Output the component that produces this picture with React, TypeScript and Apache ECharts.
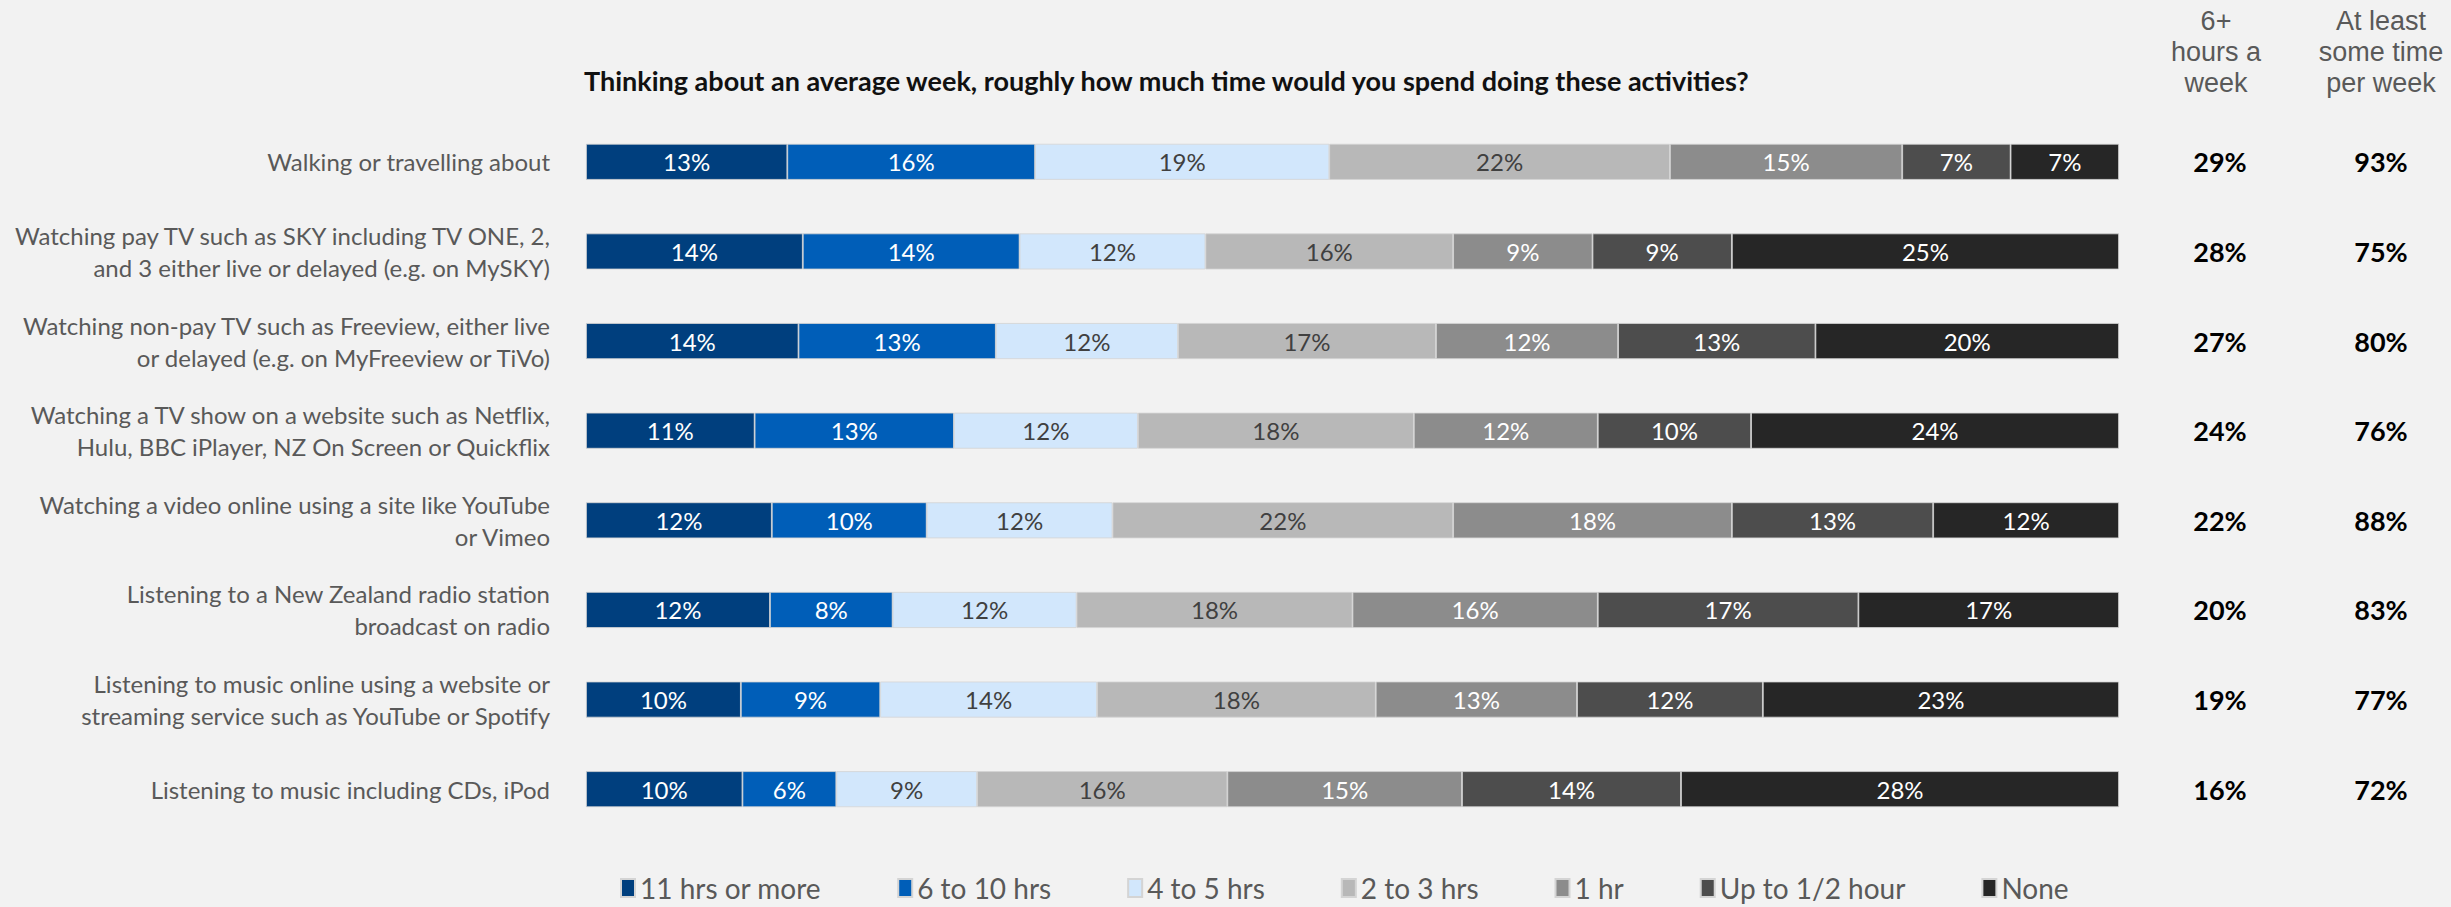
import React, { useEffect, useRef } from 'react';
import * as echarts from 'echarts';

const categories = [
  'Walking or travelling about',
  'Watching pay TV such as SKY including TV ONE, 2,\nand 3 either live or delayed (e.g. on MySKY)',
  'Watching non-pay TV such as Freeview, either live\nor delayed (e.g. on MyFreeview or TiVo)',
  'Watching a TV show on a website such as Netflix,\nHulu, BBC iPlayer, NZ On Screen or Quickflix',
  'Watching a video online using a site like YouTube\nor Vimeo',
  'Listening to a New Zealand radio station\nbroadcast on radio',
  'Listening to music online using a website or\nstreaming service such as YouTube or Spotify',
  'Listening to music including CDs, iPod',
];

const seriesNames = ['11 hrs or more', '6 to 10 hrs', '4 to 5 hrs', '2 to 3 hrs', '1 hr', 'Up to 1/2 hour', 'None'];

const hrs11Plus = [13, 14, 14, 11, 12, 12, 10, 10];
const hrs6to10 = [16, 14, 13, 13, 10, 8, 9, 6];
const hrs4to5 = [19, 12, 12, 12, 12, 12, 14, 9];
const hrs2to3 = [22, 16, 17, 18, 22, 18, 18, 16];
const hrs1 = [15, 9, 12, 12, 18, 16, 13, 15];
const upToHalf = [7, 9, 13, 10, 13, 17, 12, 14];
const noneValues = [7, 25, 20, 24, 12, 17, 23, 28];

const sixPlusHours = [29, 28, 27, 24, 22, 20, 19, 16];
const atLeastSome = [93, 75, 80, 76, 88, 83, 77, 72];

const titleText = 'Thinking about an average week, roughly how much time would you spend doing these activities?';
const header1Lines = ['6+', 'hours a', 'week'];
const header2Lines = ['At least', 'some time', 'per week'];

const seriesValues = [hrs11Plus, hrs6to10, hrs4to5, hrs2to3, hrs1, upToHalf, noneValues];
const colors = ['#003F7E', '#005EB8', '#D2E7FC', '#B8B8B8', '#8C8C8C', '#4D4D4D', '#262626'];
const labelColors = ['#FFFFFF', '#FFFFFF', '#404040', '#404040', '#FFFFFF', '#FFFFFF', '#FFFFFF'];

const FONT = 'Lato';

function headerTexts(lines: string[], cx: number): any[] {
  return lines.map((t, i) => ({
    type: 'text',
    x: cx,
    y: 21 + i * 31,
    style: {
      text: t,
      textAlign: 'center',
      textVerticalAlign: 'middle',
      align: 'center',
      verticalAlign: 'middle',
      fontSize: 27,
      fontFamily: 'Liberation Sans',
      fill: '#595959',
    },
  }));
}

export default function App() {
  const ref = useRef<HTMLDivElement>(null);
  useEffect(() => {
    const chart = echarts.init(ref.current!, null, { renderer: 'svg' });
    const rowSums = categories.map((_, i) => seriesValues.reduce((s, arr) => s + arr[i], 0));
    const series: any[] = seriesNames.map((name, k) => ({
      name,
      type: 'bar',
      stack: 'total',
      barWidth: 36,
      yAxisIndex: 0,
      itemStyle: { color: colors[k], borderColor: '#d4d4d4', borderWidth: 0.8 },
      label: {
        show: true,
        position: 'inside',
        formatter: (p: any) => seriesValues[k][p.dataIndex] + '%',
        color: labelColors[k],
        fontSize: 24,
        fontFamily: FONT,
      },
      data: seriesValues[k].map((v, i) => (v / rowSums[i]) * 100),
    }));
    const option: any = {
      animation: false,
      backgroundColor: '#F2F2F2',
      textStyle: { fontFamily: FONT },
      title: {
        text: titleText,
        left: 584,
        top: 67,
        padding: 0,
        textStyle: { fontSize: 27, fontWeight: 'bold', color: '#111111', fontFamily: FONT },
      },
      legend: {
        data: seriesNames,
        left: 620,
        top: 874,
        padding: 0,
        icon: 'rect',
        itemWidth: 14,
        itemHeight: 18,
        itemGap: 76,
        selectedMode: false,
        textStyle: { fontSize: 28, color: '#595959', fontFamily: FONT },
      },
      grid: { left: 586, right: 332, top: 117, height: 717, containLabel: false, outerBoundsMode: 'none' },
      xAxis: { type: 'value', min: 0, max: 100, show: false },
      yAxis: [
        {
          type: 'category',
          data: categories,
          inverse: true,
          axisLine: { show: false },
          axisTick: { show: false },
          axisLabel: { margin: 36, fontSize: 24, color: '#595959', lineHeight: 32, align: 'right', fontFamily: FONT },
        },
        {
          type: 'category',
          data: sixPlusHours.map((v) => v + '%'),
          inverse: true,
          position: 'right',
          axisLine: { show: false },
          axisTick: { show: false },
          axisLabel: { margin: 101, align: 'center', fontSize: 27, fontWeight: 'bold', color: '#000000', fontFamily: FONT },
        },
        {
          type: 'category',
          data: atLeastSome.map((v) => v + '%'),
          inverse: true,
          position: 'right',
          axisLine: { show: false },
          axisTick: { show: false },
          axisLabel: { margin: 262, align: 'center', fontSize: 27, fontWeight: 'bold', color: '#000000', fontFamily: FONT },
        },
      ],
      graphic: [...headerTexts(header1Lines, 2216), ...headerTexts(header2Lines, 2381)],
      series,
    };
    chart.setOption(option);
    return () => chart.dispose();
  }, []);
  return (
    <div
      ref={ref}
      style={{ position: 'fixed', left: 0, top: 0, width: '2451px', height: '907px', background: '#F2F2F2' }}
    />
  );
}
